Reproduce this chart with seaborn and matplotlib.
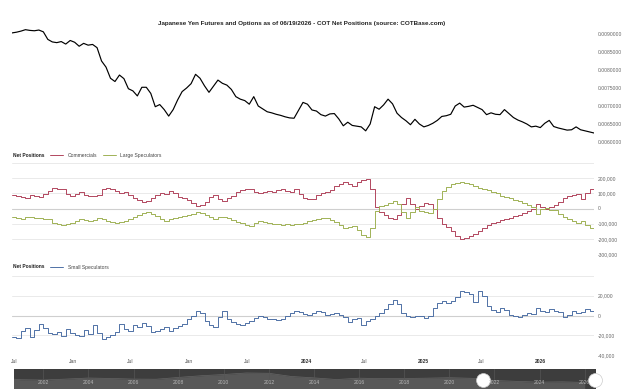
import numpy as np
import pandas as pd
import seaborn as sns
import matplotlib.pyplot as plt
from matplotlib.ticker import FuncFormatter

# bi-weekly samples, Jun 2021 .. Jun 2026
dates = pd.date_range(end='2026-06-19', periods=131, freq='14D')

yen_price = [
    0.00903, 0.00905, 0.00908, 0.00912, 0.00910, 0.00909, 0.00911, 0.00906, 0.00885, 0.00878,
    0.00876, 0.00879, 0.00872, 0.00882, 0.00877, 0.00866, 0.00874, 0.00869, 0.00871, 0.00862,
    0.00825, 0.00808, 0.00777, 0.00768, 0.00786, 0.00776, 0.00748, 0.00742, 0.00728, 0.00752,
    0.00752, 0.00735, 0.00698, 0.00704, 0.00690, 0.00672, 0.00690, 0.00717, 0.00740, 0.00750,
    0.00762, 0.00788, 0.00777, 0.00756, 0.00738, 0.00755, 0.00772, 0.00763, 0.00758, 0.00746,
    0.00726, 0.00719, 0.00715, 0.00705, 0.00726, 0.00700, 0.00692, 0.00684, 0.00681, 0.00677,
    0.00674, 0.00670, 0.00667, 0.00666, 0.00688, 0.00710, 0.00705, 0.00689, 0.00686, 0.00676,
    0.00672, 0.00678, 0.00679, 0.00664, 0.00645, 0.00655, 0.00646, 0.00644, 0.00642, 0.00631,
    0.00650, 0.00698, 0.00691, 0.00703, 0.00719, 0.00706, 0.00680, 0.00668, 0.00659, 0.00648,
    0.00663, 0.00650, 0.00642, 0.00646, 0.00652, 0.00660, 0.00671, 0.00673, 0.00677, 0.00700,
    0.00708, 0.00697, 0.00699, 0.00702, 0.00696, 0.00690, 0.00676, 0.00681, 0.00677, 0.00676,
    0.00690, 0.00679, 0.00668, 0.00661, 0.00656, 0.00650, 0.00642, 0.00644, 0.00640, 0.00652,
    0.00660, 0.00643, 0.00639, 0.00636, 0.00633, 0.00634, 0.00642, 0.00634, 0.00631, 0.00628,
    0.00625,
]

commercials = [
    88000, 85000, 75000, 72000, 90000, 82000, 74000, 95000, 118000, 135000,
    130000, 126000, 98000, 80000, 95000, 110000, 86000, 84000, 80000, 86000,
    128000, 134000, 128000, 114000, 104000, 108000, 90000, 68000, 55000, 44000,
    52000, 66000, 92000, 100000, 96000, 115000, 100000, 74000, 66000, 56000,
    38000, 18000, 22000, 42000, 75000, 92000, 60000, 50000, 70000, 84000,
    110000, 122000, 130000, 128000, 108000, 104000, 110000, 115000, 112000, 120000,
    126000, 115000, 108000, 130000, 98000, 66000, 62000, 64000, 88000, 102000,
    112000, 125000, 148000, 160000, 175000, 160000, 147000, 172000, 185000, 197000,
    130000, 10000, -25000, -45000, -62000, -72000, -40000, 30000, 72000, 30000,
    -5000, 18000, 35000, 30000, -5000, -60000, -100000, -122000, -150000, -180000,
    -198000, -192000, -182000, -168000, -150000, -130000, -110000, -94000, -88000, -76000,
    -70000, -62000, -50000, -42000, -30000, -18000, -5000, 28000, 10000, -2000,
    12000, 20000, 40000, 68000, 80000, 88000, 98000, 65000, 105000, 130000,
    158000,
]

large_specs = [
    -55000, -60000, -70000, -58000, -56000, -64000, -60000, -68000, -72000, -95000,
    -105000, -112000, -100000, -94000, -82000, -72000, -78000, -84000, -75000, -62000,
    -68000, -82000, -90000, -94000, -92000, -80000, -68000, -55000, -42000, -30000,
    -25000, -38000, -50000, -72000, -80000, -66000, -62000, -55000, -50000, -42000,
    -38000, -26000, -30000, -40000, -58000, -66000, -56000, -55000, -60000, -75000,
    -90000, -98000, -110000, -116000, -95000, -85000, -92000, -96000, -100000, -104000,
    -106000, -102000, -106000, -104000, -100000, -94000, -85000, -76000, -70000, -64000,
    -62000, -75000, -88000, -110000, -128000, -125000, -118000, -145000, -172000, -190000,
    -130000, -15000, 15000, 25000, 38000, 48000, 30000, -20000, -62000, -20000,
    8000, -15000, -22000, -28000, -5000, 60000, 115000, 140000, 160000, 170000,
    175000, 168000, 160000, 148000, 136000, 128000, 120000, 112000, 100000, 84000,
    76000, 70000, 58000, 48000, 38000, 22000, 8000, -38000, 0, 6000,
    -8000, -12000, -35000, -55000, -72000, -85000, -95000, -84000, -110000, -130000,
    -152000,
]

small_specs = [
    -22000, -23000, -16000, -13000, -22000, -15000, -9000, -13000, -18000, -19000,
    -17000, -21000, -14000, -18000, -20000, -21000, -15000, -19000, -10000, -18000,
    -24000, -22000, -20000, -17000, -9000, -14000, -16000, -10000, -12000, -8000,
    -11000, -17000, -16000, -14000, -12000, -16000, -13000, -11000, -9000, -4000,
    -1000, 5000, 3000, -6000, -10000, -12000, -2000, 5000, -4000, -7000,
    -9000, -10000, -8000, -6000, -3000, -1000, -2000, -4000, -4000, -5000,
    -4000, -1000, 3000, 5000, 4000, 2000, 1000, 3000, 5000, 4000,
    1000, 2000, 3000, 1000, -2000, -7000, -4000, -3000, -10000, -6000,
    -4000, -1000, 3000, 7000, 12000, 16000, 12000, 3000, -1000, -2000,
    0, -1000, -3000, 0, 8000, 13000, 15000, 13000, 15000, 19000,
    25000, 24000, 22000, 14000, 25000, 20000, 10000, 6000, 4000, 8000,
    6000, 1000, 0, -2000, 1000, 3000, 2000, 8000, 5000, 4000,
    7000, 5000, 4000, -2000, 1000, 5000, 3000, 4000, 7000, 5000,
    0,
]

tick_dates = ['2021-07-01', '2022-01-01', '2022-07-01', '2023-01-01', '2023-07-01',
              '2024-01-01', '2024-07-01', '2025-01-01', '2025-07-01', '2026-01-01']
tick_labels = ['Jul', 'Jan', 'Jul', 'Jan', 'Jul', '2024', 'Jul', '2025', 'Jul', '2026']

# navigator overview (yearly)
nav_years = list(range(2000, 2027))
nav_price = [0.0093, 0.0082, 0.0080, 0.0086, 0.0093, 0.0090, 0.0086, 0.0085, 0.0097, 0.0108,
             0.0116, 0.0126, 0.0124, 0.0103, 0.0094, 0.0083, 0.0092, 0.0089, 0.0090, 0.0092,
             0.0095, 0.0091, 0.0077, 0.0071, 0.0066, 0.0068, 0.0064]
nav_label_years = list(range(2002, 2027, 2))

title = 'Japanese Yen Futures and Options as of 06/19/2026 - COT Net Positions (source: COTBase.com)'

sns.set_theme(style='white')
plt.rcParams['font.family'] = ['Liberation Sans', 'DejaVu Sans']

W, H = 625, 389
fig = plt.figure(figsize=(W / 100, H / 100), dpi=100)


def px_axes(x0, y0, x1, y1):
    return fig.add_axes([x0 / W, 1 - y1 / H, (x1 - x0) / W, (y1 - y0) / H])


label_kw = dict(labelsize=3.6, labelcolor='#666666', length=0, pad=2.5)
grid_color = '#e6e6e6'

# price panel
ax1 = px_axes(12, 26, 594, 142)
sns.lineplot(x=dates, y=yen_price, ax=ax1, color='black', lw=0.85)
ax1.set_ylim(0.0060, 0.0060 + 116 / 36000)
ax1.set_yticks(np.arange(0.0060, 0.00901, 0.0005))
ax1.yaxis.set_major_formatter(FuncFormatter(lambda v, p: '{:.7f}'.format(v)))

# commercials / large speculators
cot = pd.DataFrame({
    'date': list(dates) * 2,
    'value': commercials + large_specs,
    'series': ['Commercials'] * len(dates) + ['Large Speculators'] * len(dates),
})
ax2 = px_axes(12, 163, 594, 254)
sns.lineplot(data=cot, x='date', y='value', hue='series', ax=ax2,
             palette={'Commercials': '#b2475f', 'Large Speculators': '#a0b256'},
             drawstyle='steps-post', lw=0.7)
ax2.set_ylim(-300000, 300000)
ax2.set_yticks(np.arange(-300000, 300001, 100000))
ax2.yaxis.set_major_formatter(FuncFormatter(lambda v, p: '' if v > 250000 else '{:,.0f}'.format(v)))
ax2.axhline(0, color='#cfcfcf', lw=0.8, zorder=1)

# small speculators
ax3 = px_axes(12, 276, 594, 355)
sns.lineplot(x=dates, y=small_specs, ax=ax3, color='#4f71a6', drawstyle='steps-post',
             lw=0.7, label='Small Speculators')
ax3.set_ylim(-40000, 40000)
ax3.set_yticks(np.arange(-40000, 40001, 20000))
ax3.yaxis.set_major_formatter(FuncFormatter(lambda v, p: '' if v > 30000 else '{:,.0f}'.format(v)))
ax3.axhline(0, color='#cfcfcf', lw=0.8, zorder=1)

for ax in (ax1, ax2, ax3):
    ax.set_xlim(dates[0], dates[-1])
    ax.yaxis.tick_right()
    ax.tick_params(axis='y', **label_kw)
    ax.set_xlabel('')
    ax.set_ylabel('')
    for s in ax.spines.values():
        s.set_visible(False)
    ax.set_facecolor('none')

for ax in (ax2, ax3):
    ax.grid(axis='y', color=grid_color, lw=0.6)
    ax.set_axisbelow(True)

ax1.set_xticks([])
ax2.set_xticks([])
ax3.set_xticks(pd.to_datetime(tick_dates))
ax3.set_xticklabels(tick_labels)
ax3.tick_params(axis='x', labelsize=3.6, labelcolor='#555555', length=0, pad=3.2)
for lbl in ax3.get_xticklabels():
    if lbl.get_text().isdigit():
        lbl.set_fontweight('bold')
        lbl.set_color('#333333')

# legends
for ax, ypx in ((ax2, 155), (ax3, 267)):
    handles, labels = ax.get_legend_handles_labels()
    ax.legend(handles, labels, loc='center left', bbox_to_anchor=(50 / W, 1 - ypx / H),
              bbox_transform=fig.transFigure, ncol=2, frameon=False, fontsize=3.6,
              handlelength=2.6, handletextpad=0.9, columnspacing=1.2,
              borderpad=0, borderaxespad=0, labelcolor='#444444')
    fig.text(13 / W, 1 - ypx / H, 'Net Positions', fontsize=3.5, fontweight='bold',
             color='#222222', va='center', ha='left')

fig.text(302 / W, 1 - 23 / H, title, fontsize=4.5, fontweight='bold', color='#222222',
         ha='center', va='center')

# navigator
ax4 = px_axes(14, 369, 596, 389)
ax4.set_facecolor('#3d3d3d')
ax4.fill_between(nav_years, nav_price, 0, color='#585858', lw=0)
sns.lineplot(x=nav_years, y=nav_price, ax=ax4, color='#666666', lw=0.5)
ax4.set_xlim(2000.7, 2026.5)
ax4.set_ylim(0.0021, 0.0152)
for yr in nav_label_years:
    ax4.axvline(yr, ymin=0.5, ymax=1, color='#555555', lw=0.5)
    ax4.text(yr, 0.3, str(yr), transform=ax4.get_xaxis_transform(), fontsize=3.6,
             color='#b8b8b8', ha='center', va='center')
ax4.plot([2021.48, 2026.46], [0.45, 0.45], transform=ax4.get_xaxis_transform(),
         ls='none', marker='o', markersize=10, markerfacecolor='white',
         markeredgecolor='#cccccc', markeredgewidth=0.5, clip_on=False)
ax4.set_xticks([])
ax4.set_yticks([])
ax4.set_xlabel('')
ax4.set_ylabel('')
for s in ax4.spines.values():
    s.set_visible(False)

fig.savefig('out.png', dpi=100)
